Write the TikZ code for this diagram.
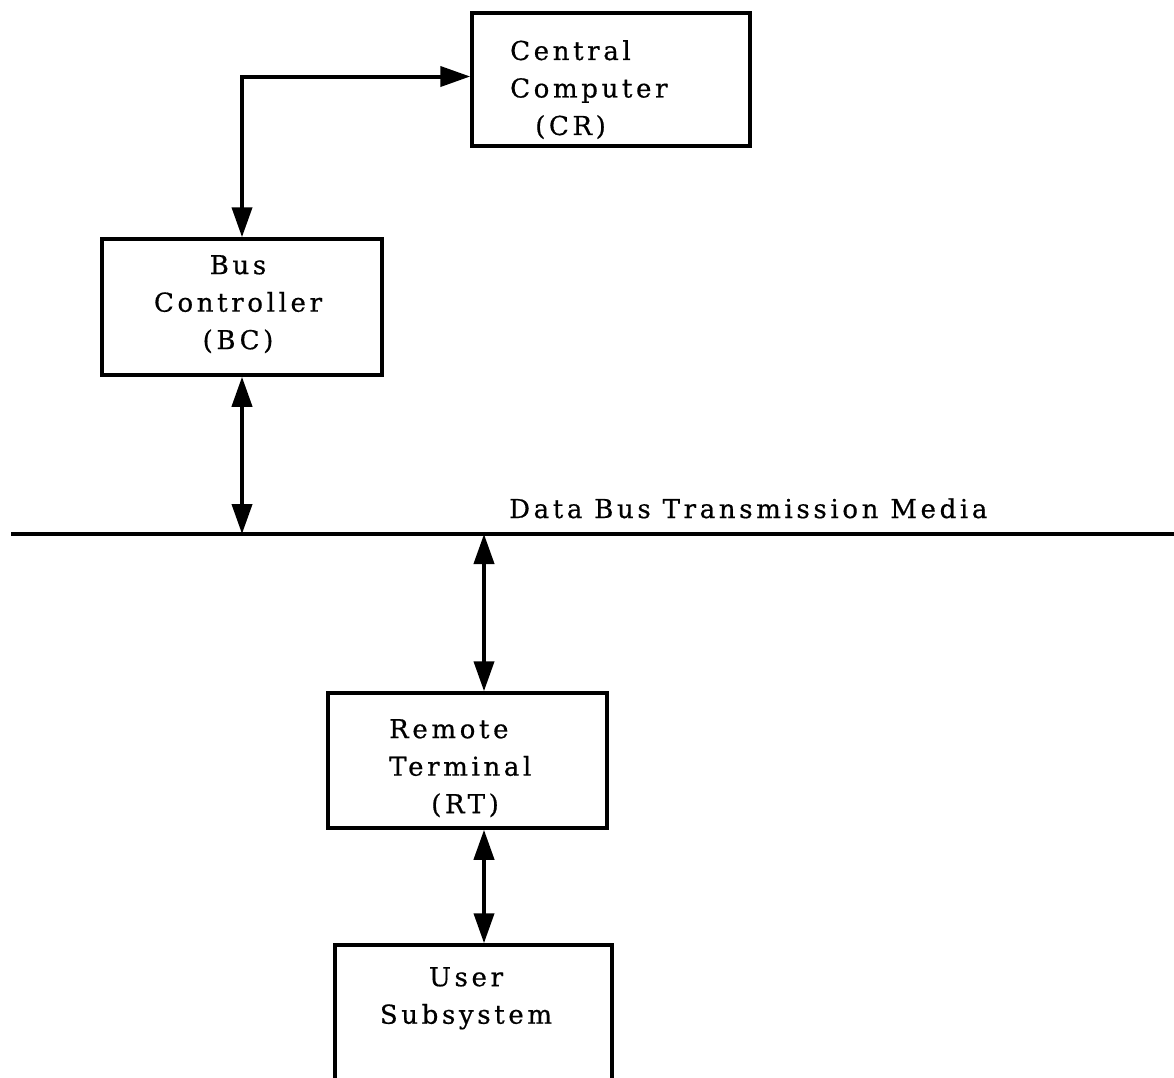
\documentclass[tikz,border=0pt]{standalone}
\usepackage{fontspec}
\setmainfont{DejaVu Serif}[LetterSpace=14, FakeBold=0.6]
\usetikzlibrary{arrows.meta}

\begin{document}
\begin{tikzpicture}[x=1pt,y=-1pt,
  blk/.style={draw, line width=3.5pt, inner sep=0pt},
  lbl/.style={font=\fontsize{26}{37.5}\selectfont, inner sep=0pt},
  link/.style={line width=4pt,
    {Triangle[length=30pt,width=20pt]}-{Triangle[length=30pt,width=20pt]}},
  busline/.style={line width=3.5pt}
]
\useasboundingbox (0,0) rectangle (1174,1077);
\clip (0,0) rectangle (1174,1077);

% boxes
\node[blk, minimum width=278pt, minimum height=133pt] (cc) at (611,79.5) {};
\node[blk, minimum width=280pt, minimum height=136pt] (bc) at (242,307) {};
\node[blk, minimum width=279pt, minimum height=135pt] (rt) at (467.5,760.5) {};
\node[blk, minimum width=277pt, minimum height=165pt] (us) at (473.5,1027.5) {};

% box texts
\node[lbl, align=left, anchor=north west] (cctext) at (510,40)
  {Central\\Computer\\\hspace*{25pt}(CR)};
\node[lbl, align=center, anchor=north] (bctext) at (238,255)
  {Bus\\Controller\\(BC)};
\node[lbl, align=left, anchor=north west] (rttext) at (389,719)
  {Remote\\Terminal\\\hspace*{42pt}(RT)};
\node[lbl, align=center, anchor=north] (ustext) at (466,967)
  {User\\Subsystem};

% data bus
\coordinate (busL) at (11,534);
\coordinate (busR) at (1174,534);
\coordinate (tap) at (484,534);
\draw[busline] (busL) -- (busR);
\node[lbl, anchor=base west] (buslabel) at (509,518) {Data Bus Transmission Media};

% connectors
\draw[link] (bc.north) |- ([yshift=3pt]cc.west);
\draw[link] (bc.south) -- (bc.south |- busL);
\draw[link] (tap) -- (tap |- rt.north);
\draw[link] (tap |- rt.south) -- (tap |- us.north);
\end{tikzpicture}
\end{document}
